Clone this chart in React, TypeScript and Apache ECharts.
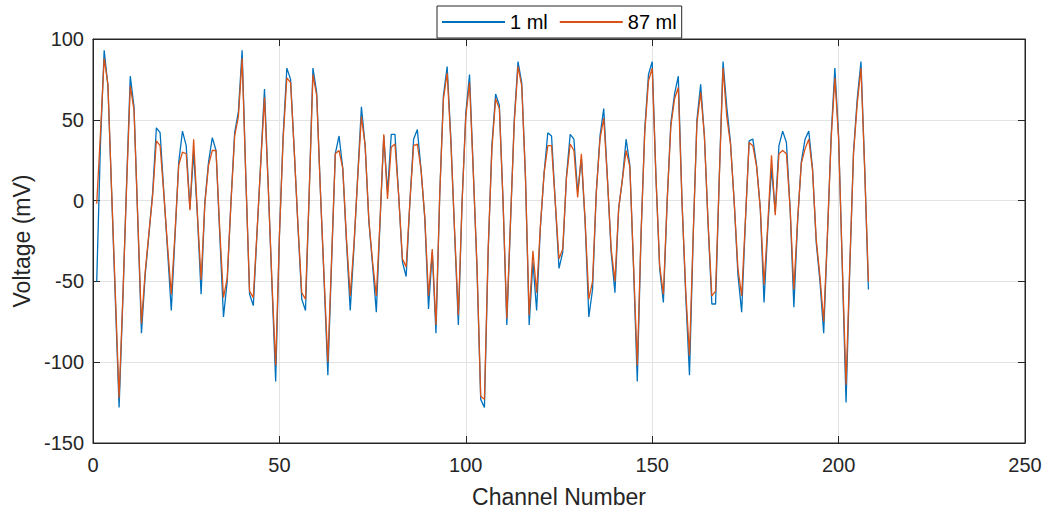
import React, { useEffect, useRef } from "react";
import * as echarts from "echarts";

const xTicks = [0, 50, 100, 150, 200, 250];
const yTicks = [-150, -100, -50, 0, 50, 100];
const seriesNames = ["1 ml", "87 ml"];

// voltage (mV) per channel, channels 1..208
const vol1ml = [
  -50, 35, 93, 71, 5, -62, -128, -62, 10, 77,
  58, -11, -82, -46, -21, 5, 45, 42, 5, -31,
  -68, -22, 24, 43, 34, -5, 30, -9, -58, -1,
  24, 39, 31, -21, -72, -50, -1, 42, 55, 93,
  14, -58, -65, -20, 24, 69, 9, -52, -112, -22,
  40, 82, 75, 30, -17, -61, -68, 5, 82, 67,
  6, -50, -108, -38, 29, 40, 20, -26, -68, -29,
  15, 58, 34, -13, -40, -69, -13, 40, 5, 41,
  41, 3, -38, -47, -1, 38, 44, 19, -11, -67,
  -32, -82, 3, 65, 83, 38, -20, -77, -1, 54,
  78, 19, -42, -123, -128, -32, 34, 66, 59, -1,
  -77, -13, 50, 86, 73, 15, -77, -38, -68, -17,
  17, 42, 40, -1, -42, -32, 15, 41, 38, 5,
  26, -13, -72, -55, 5, 40, 57, 13, -32, -57,
  -5, 13, 38, 22, -42, -112, -22, 44, 78, 86,
  15, -42, -63, -1, 48, 66, 77, -1, -59, -108,
  -22, 50, 72, 40, -15, -64, -64, 15, 86, 58,
  36, -1, -46, -69, -13, 37, 38, 22, -5, -63,
  -17, 20, -7, 34, 43, 36, -5, -66, -13, 24,
  38, 43, 20, -26, -50, -82, -22, 40, 82, 40,
  -42, -125, -42, 30, 63, 86, 20, -55,
];

const vol87ml = [
  -2, 42, 88, 72, 6, -58, -122, -60, 8, 71,
  56, -10, -76, -44, -20, 3, 37, 34, 4, -28,
  -58, -20, 22, 30, 29, -6, 38, -8, -49, -2,
  22, 31, 31, -18, -60, -48, -2, 40, 52, 88,
  14, -56, -60, -19, 23, 64, 9, -50, -102, -22,
  38, 76, 73, 30, -16, -57, -61, 5, 78, 65,
  6, -48, -100, -36, 29, 31, 20, -24, -59, -27,
  14, 52, 34, -12, -38, -59, -12, 41, 1, 33,
  35, 3, -36, -41, -1, 34, 35, 19, -10, -59,
  -30, -77, 3, 63, 79, 36, -19, -71, -1, 52,
  73, 18, -40, -121, -123, -30, 32, 63, 57, -1,
  -73, -12, 48, 83, 71, 15, -71, -31, -57, -16,
  17, 34, 34, -1, -36, -30, 14, 35, 31, 2,
  29, -12, -61, -50, 5, 38, 51, 13, -30, -50,
  -5, 13, 31, 21, -40, -102, -21, 42, 74, 82,
  15, -40, -58, -1, 46, 63, 70, -1, -56, -96,
  -21, 48, 67, 40, -14, -59, -56, 14, 82, 52,
  35, -1, -42, -59, -12, 36, 34, 21, -5, -52,
  -15, 28, -9, 29, 31, 29, -5, -55, -12, 23,
  32, 38, 19, -24, -47, -75, -21, 38, 76, 38,
  -40, -114, -40, 29, 60, 82, 19, -50,
];

const FONT = "'Liberation Sans', Arial, Helvetica, sans-serif";
const TXT = "#262626";

export default function App() {
  const ref = useRef<HTMLDivElement>(null);
  useEffect(() => {
    if (!ref.current) return;
    const chart = echarts.init(ref.current, undefined, { renderer: "svg" });
    const toPairs = (arr: number[]) => arr.map((v, i) => [i + 1, v]);
    const axisCommon = {
      axisLine: { show: true, onZero: false, lineStyle: { color: TXT, width: 1 } },
      axisTick: { show: true, inside: true, length: 7, lineStyle: { color: TXT } },
    };
    chart.setOption({
      animation: false,
      backgroundColor: "#ffffff",
      textStyle: { fontFamily: FONT },
      legend: {
        data: seriesNames,
        left: 437,
        top: 6,
        padding: [6, 5],
        itemGap: 12,
        itemWidth: 63,
        itemHeight: 2,
        icon: "rect",
        borderColor: TXT,
        borderWidth: 1,
        backgroundColor: "#ffffff",
        textStyle: { fontSize: 20, color: "#000", fontFamily: FONT },
      },
      grid: {
        left: 93,
        top: 39,
        width: 932,
        height: 404,
        show: true,
        borderColor: TXT,
        borderWidth: 1,
        backgroundColor: "#ffffff",
      },
      xAxis: [
        {
          type: "value",
          min: xTicks[0],
          max: xTicks[xTicks.length - 1],
          interval: 50,
          position: "bottom",
          ...axisCommon,
          axisLabel: { fontSize: 20, color: TXT, margin: 12, fontFamily: FONT },
          splitLine: { show: true, lineStyle: { color: "#e3e3e3", width: 1 } },
          name: "Channel Number",
          nameLocation: "middle",
          nameGap: 42,
          nameTextStyle: { fontSize: 23, color: TXT, fontFamily: FONT },
        },
        {
          type: "value",
          min: xTicks[0],
          max: xTicks[xTicks.length - 1],
          interval: 50,
          position: "top",
          ...axisCommon,
          axisLabel: { show: false },
          splitLine: { show: false },
        },
      ],
      yAxis: [
        {
          type: "value",
          min: yTicks[0],
          max: yTicks[yTicks.length - 1],
          interval: 50,
          position: "left",
          ...axisCommon,
          axisLabel: { fontSize: 20, color: TXT, margin: 9, fontFamily: FONT },
          splitLine: { show: true, lineStyle: { color: "#e3e3e3", width: 1 } },
          name: "Voltage (mV)",
          nameLocation: "middle",
          nameGap: 58,
          nameTextStyle: { fontSize: 23, color: TXT, fontFamily: FONT },
        },
        {
          type: "value",
          min: yTicks[0],
          max: yTicks[yTicks.length - 1],
          interval: 50,
          position: "right",
          ...axisCommon,
          axisLabel: { show: false },
          splitLine: { show: false },
        },
      ],
      series: [
        {
          name: seriesNames[0],
          type: "line",
          data: toPairs(vol1ml),
          showSymbol: false,
          symbol: "none",
          lineStyle: { color: "#0072BD", width: 1.3 },
          itemStyle: { color: "#0072BD" },
          z: 2,
        },
        {
          name: seriesNames[1],
          type: "line",
          data: toPairs(vol87ml),
          showSymbol: false,
          symbol: "none",
          lineStyle: { color: "#D95319", width: 1.3 },
          itemStyle: { color: "#D95319" },
          z: 3,
        },
      ],
    });
    return () => chart.dispose();
  }, []);
  return (
    <div
      ref={ref}
      style={{ position: "fixed", left: 0, top: 0, width: 1045, height: 515 }}
    />
  );
}
